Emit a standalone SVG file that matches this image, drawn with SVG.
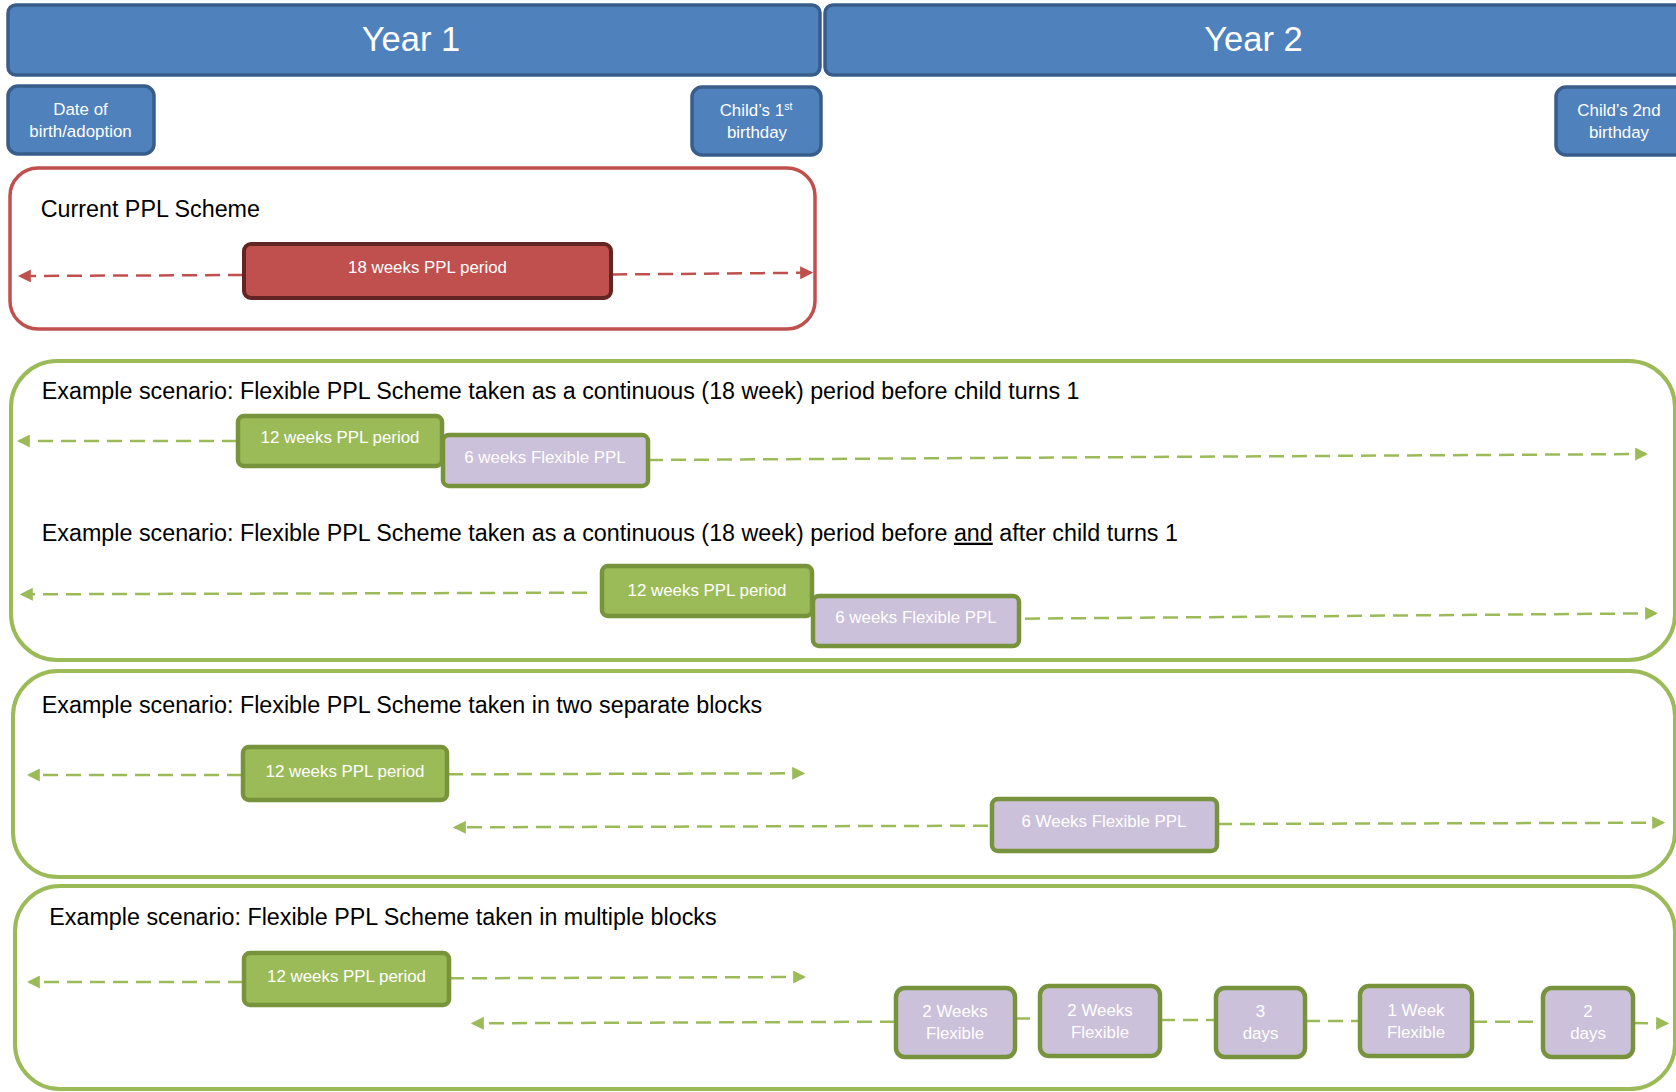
<svg xmlns="http://www.w3.org/2000/svg" width="1676" height="1092" viewBox="0 0 1676 1092">
<defs>
<marker id="ar" markerUnits="userSpaceOnUse" markerWidth="13" markerHeight="13" viewBox="0 0 12 12" refX="10" refY="6" orient="auto"><path d="M0,0 L12,6 L0,12 z" fill="#c0504d"/></marker>
<marker id="ag" markerUnits="userSpaceOnUse" markerWidth="13" markerHeight="13" viewBox="0 0 12 12" refX="10" refY="6" orient="auto"><path d="M0,0 L12,6 L0,12 z" fill="#9bbb59"/></marker>
</defs>
<style>
text{font-family:"Liberation Sans",Arial,sans-serif}
.blue{fill:#4f81bd;stroke:#385d8a;stroke-width:3.5}
.wt{fill:#ffffff;font-size:16.9px;text-anchor:middle}
.yt{fill:#ffffff;font-size:34.5px;text-anchor:middle}
.title{fill:#000000;font-size:23.3px}
.redc{fill:none;stroke:#c0504d;stroke-width:3.5}
.redb{fill:#c0504d;stroke:#632523;stroke-width:4}
.grc{fill:none;stroke:#9bbb59;stroke-width:4}
.grb{fill:#9bbb59;stroke:#77933c;stroke-width:4.5}
.lvb{fill:#ccc1da;stroke:#77933c;stroke-width:4.5}
.dr{fill:none;stroke:#c0504d;stroke-width:2.5;stroke-dasharray:15 8}
.dg{fill:none;stroke:#9bbb59;stroke-width:2.5;stroke-dasharray:15 8}
</style>
<rect width="1676" height="1092" fill="#ffffff"/>

<g id="year1"><rect class="blue" x="8" y="5" width="812" height="70" rx="8"/><text class="yt" x="411" y="50.5">Year 1</text></g>
<g id="year2"><rect class="blue" x="825" y="5" width="860" height="70" rx="8"/><text class="yt" x="1253.5" y="50.5">Year 2</text></g>
<g id="birth"><rect class="blue" x="8" y="86" width="146" height="68" rx="10"/><text class="wt" x="80.5" y="115">Date of</text><text class="wt" x="80.5" y="137">birth/adoption</text></g>
<g id="bday1"><rect class="blue" x="692" y="87" width="129" height="68" rx="10"/><text class="wt" x="756" y="116">Child’s 1<tspan font-size="10.5px" dy="-6">st</tspan></text><text class="wt" x="757" y="138">birthday</text></g>
<g id="bday2"><rect class="blue" x="1556" y="87" width="130" height="68" rx="10"/><text class="wt" x="1619" y="116">Child’s 2nd</text><text class="wt" x="1619" y="138">birthday</text></g>

<g id="current-scheme"><rect class="redc" x="10" y="168" width="805" height="161" rx="28"/><text class="title" x="40.7" y="217">Current PPL Scheme</text></g>
<g id="scenario-continuous"><rect class="grc" x="11" y="361" width="1664" height="299" rx="46"/>
<text class="title" x="41.8" y="399">Example scenario: Flexible PPL Scheme taken as a continuous (18 week) period before child turns 1</text>
<text class="title" x="41.8" y="540.7">Example scenario: Flexible PPL Scheme taken as a continuous (18 week) period before <tspan text-decoration="underline">and</tspan> after child turns 1</text></g>
<g id="scenario-two-blocks"><rect class="grc" x="13" y="671" width="1662" height="206" rx="45"/><text class="title" x="41.8" y="713">Example scenario: Flexible PPL Scheme taken in two separate blocks</text></g>
<g id="scenario-multiple"><rect class="grc" x="15" y="886" width="1660" height="203" rx="45"/><text class="title" x="49.3" y="925">Example scenario: Flexible PPL Scheme taken in multiple blocks</text></g>

<g id="connectors">
<line class="dr" x1="243" y1="275" x2="20" y2="276" marker-end="url(#ar)"/>
<line class="dr" x1="612" y1="274.5" x2="811" y2="272.7" marker-end="url(#ar)"/>
<line class="dg" x1="237" y1="441" x2="19" y2="441" marker-end="url(#ag)"/>
<line class="dg" x1="648" y1="460" x2="1646" y2="454" marker-end="url(#ag)"/>
<line class="dg" x1="587" y1="592.7" x2="22" y2="594.3" marker-end="url(#ag)"/>
<line class="dg" x1="1025" y1="618.7" x2="1656" y2="613.3" marker-end="url(#ag)"/>
<line class="dg" x1="242" y1="775" x2="29" y2="775" marker-end="url(#ag)"/>
<line class="dg" x1="448" y1="774.3" x2="803" y2="773.3" marker-end="url(#ag)"/>
<line class="dg" x1="988" y1="825.7" x2="455" y2="827.3" marker-end="url(#ag)"/>
<line class="dg" x1="1217" y1="824" x2="1663" y2="822.7" marker-end="url(#ag)"/>
<line class="dg" x1="243" y1="982" x2="29" y2="982" marker-end="url(#ag)"/>
<line class="dg" x1="449" y1="978.3" x2="804" y2="977" marker-end="url(#ag)"/>
<line class="dg" x1="895" y1="1021.7" x2="473" y2="1023.3" marker-end="url(#ag)"/>
<line class="dg" x1="1015" y1="1018.5" x2="1040" y2="1018.5"/>
<line class="dg" x1="1160" y1="1020" x2="1216" y2="1020"/>
<line class="dg" x1="1305" y1="1021" x2="1360" y2="1021"/>
<line class="dg" x1="1472" y1="1021.7" x2="1543" y2="1021.7"/>
<line class="dg" x1="1633" y1="1023" x2="1667" y2="1023.3" marker-end="url(#ag)"/>
</g>

<g id="red-18w"><rect class="redb" x="244" y="244" width="367" height="54" rx="7"/><text class="wt" x="427.5" y="273">18 weeks PPL period</text></g>
<g id="s1-12w"><rect class="grb" x="238" y="416" width="204" height="50" rx="6"/><text class="wt" x="340" y="443">12 weeks PPL period</text></g>
<g id="s1-6w"><rect class="lvb" x="443" y="435" width="205" height="51" rx="6"/><text class="wt" x="545" y="462.7">6 weeks Flexible PPL</text></g>
<g id="s2-12w"><rect class="grb" x="602" y="566" width="210" height="50" rx="6"/><text class="wt" x="707" y="595.5">12 weeks PPL period</text></g>
<g id="s2-6w"><rect class="lvb" x="813" y="596" width="206" height="50" rx="6"/><text class="wt" x="916" y="623">6 weeks Flexible PPL</text></g>
<g id="b2-12w"><rect class="grb" x="243" y="747" width="204" height="53" rx="6"/><text class="wt" x="345" y="777">12 weeks PPL period</text></g>
<g id="b2-6w"><rect class="lvb" x="992" y="799" width="225" height="52" rx="6"/><text class="wt" x="1104" y="827">6 Weeks Flexible PPL</text></g>
<g id="b3-12w"><rect class="grb" x="244" y="953" width="205" height="52" rx="6"/><text class="wt" x="346.5" y="982">12 weeks PPL period</text></g>
<g id="b3-a"><rect class="lvb" x="896" y="988" width="119" height="69" rx="9"/><text class="wt" x="955" y="1016.5">2 Weeks</text><text class="wt" x="955" y="1038.5">Flexible</text></g>
<g id="b3-b"><rect class="lvb" x="1040" y="986" width="120" height="70" rx="9"/><text class="wt" x="1100" y="1015.5">2 Weeks</text><text class="wt" x="1100" y="1037.5">Flexible</text></g>
<g id="b3-c"><rect class="lvb" x="1216" y="988" width="89" height="69" rx="9"/><text class="wt" x="1260.5" y="1016.5">3</text><text class="wt" x="1260.5" y="1038.5">days</text></g>
<g id="b3-d"><rect class="lvb" x="1360" y="986" width="112" height="70" rx="9"/><text class="wt" x="1416" y="1015.5">1 Week</text><text class="wt" x="1416" y="1037.5">Flexible</text></g>
<g id="b3-e"><rect class="lvb" x="1543" y="988" width="90" height="69" rx="9"/><text class="wt" x="1588" y="1016.5">2</text><text class="wt" x="1588" y="1038.5">days</text></g>
</svg>
